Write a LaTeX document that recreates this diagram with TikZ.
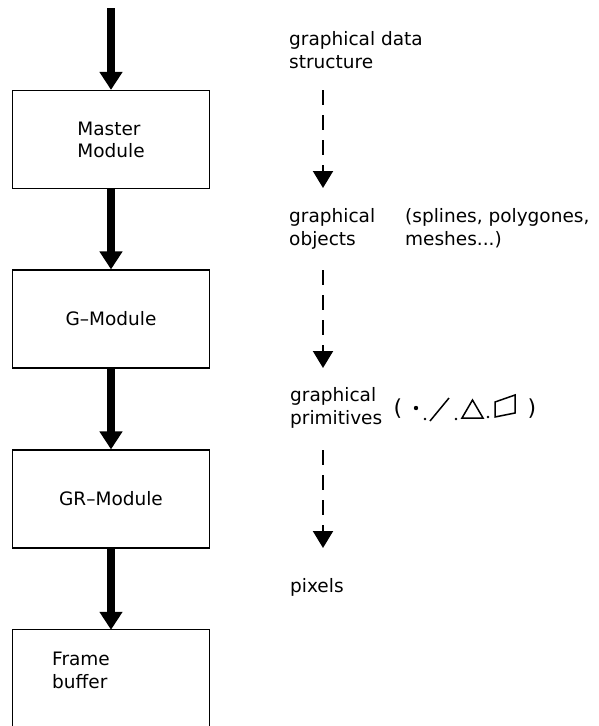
\documentclass[tikz,border=0pt]{standalone}
\usepackage{fontspec}
\setmainfont{DejaVu Sans}
\usetikzlibrary{arrows.meta,positioning}

\begin{document}
\begin{tikzpicture}[x=1pt, y=-1pt,
    box/.style={draw, line width=1.2pt, minimum width=197pt, minimum height=98pt, align=left, inner sep=0pt, font=\fontsize{18.5}{22}\selectfont},
    txt/.style={anchor=base west, align=left, inner sep=0pt, font=\fontsize{18.5}{22.5}\selectfont},
    flow/.style={-{Triangle[width=22pt,length=18pt]}, line width=8pt},
    dflow/.style={-{Triangle[width=20pt,length=17pt]}, line width=2pt, dash pattern=on 15pt off 10pt},
    shp/.style={line width=1.5pt}
  ]
  \useasboundingbox (0,0) rectangle (599,726);

  % Module-Kette links
  \coordinate (in) at (111,8);
  \node[box] (master) at (111,139.5) {Master\\Module};
  \node[box] (gmod) at (111,319) {G--Module};
  \node[box] (grmod) at (111,499) {GR--Module};
  \node[minimum width=197pt, minimum height=100pt, inner sep=0pt] (fb) at (111,680) {};
  \draw[line width=1.2pt] (fb.south west) -- (fb.north west) -- (fb.north east) -- (fb.south east);
  \node[txt] (fblabel) at (52,688) {Frame\\buffer};

  \draw[flow] (in) -- (master);
  \draw[flow] (master) -- (gmod);
  \draw[flow] (gmod) -- (grmod);
  \draw[flow] (grmod) -- (fb.north);

  % Datenstufen rechts
  \node[txt] (gds) at (289,68) {graphical data\\structure};
  \node[txt] (gobj) at (289,245) {graphical\\objects};
  \node[txt] (gobjex) at (405,245) {(splines, polygones,\\meshes...)};
  \node[txt] (gprim) at (290,424) {graphical\\primitives};
  \node[txt] (pix) at (290,592) {pixels};

  \coordinate (d1s) at (323,90);  \coordinate (d1e) at (323,188);
  \coordinate (d2s) at (323,270); \coordinate (d2e) at (323,368);
  \coordinate (d3s) at (323,450); \coordinate (d3e) at (323,548);
  \draw[dflow] (d1s) -- (d1e);
  \draw[dflow] (d2s) -- (d2e);
  \draw[dflow] (d3s) -- (d3e);

  % Primitive
  \node[inner sep=0pt, font=\fontsize{22}{22}\selectfont] (lpar) at (398,409) {(};
  \node[inner sep=0pt, font=\fontsize{22}{22}\selectfont] (rpar) at (532,409) {)};
  \fill (416,408) circle (2.2);
  \fill (425,419) circle (1.4);
  \draw[shp] (430,421) -- (449,398);
  \fill (456,419) circle (1.4);
  \draw[shp] (462,418) -- (483,418) -- (472.5,400) -- cycle;
  \fill (488,417) circle (1.4);
  \draw[shp] (495,402) -- (515,395) -- (515,413) -- (495,417) -- cycle;
\end{tikzpicture}
\end{document}
